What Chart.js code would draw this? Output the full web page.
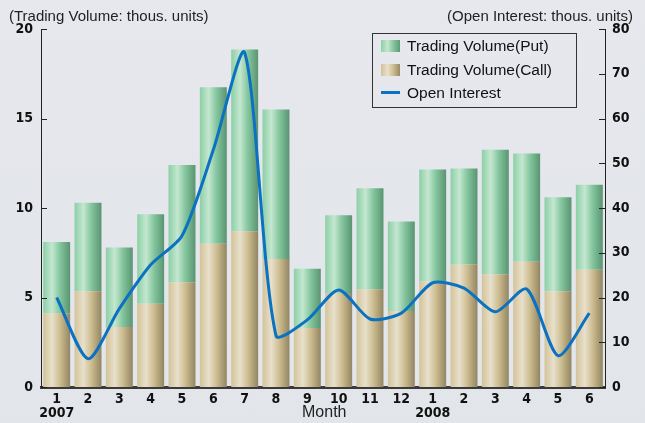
<!DOCTYPE html>
<html lang="en">
<head>
  <meta charset="UTF-8" />
  <title>Trading Volume and Open Interest</title>
  <script src="https://cdn.jsdelivr.net/npm/chart.js"></script>
  <style>
    body {
      margin: 0;
      background: #e4e7ec;
      font-family: "Liberation Sans", Arial, sans-serif;
    }
    #wrap {
      position: relative;
      width: 645px;
      height: 423px;
      background: linear-gradient(180deg, #e6e8ed 0%, #e2e5ea 100%);
    }
    canvas { position: absolute; left: 0; top: 0; }
    .unit {
      position: absolute;
      top: 7px;
      font-size: 15px;
      color: #222;
    }
    #month {
      position: absolute;
      left: 302px;
      top: 403px;
      font-size: 16px;
      color: #222;
    }
    #legend {
      position: absolute;
      left: 372px;
      top: 33px;
      width: 205px;
      height: 75px;
      border: 1px solid #333;
      box-sizing: border-box;
      padding: 0 0 0 8px;
      font-size: 15.5px;
      color: #111;
    }
    #legend div { height: 23.5px; line-height: 23.5px; }
    #legend span.sw {
      display: inline-block;
      width: 19px;
      height: 12px;
      vertical-align: -1px;
      margin-right: 7px;
    }
    #legend span.ln {
      display: inline-block;
      width: 19px;
      height: 3px;
      background: #0b72c1;
      vertical-align: 4px;
      margin-right: 7px;
    }
  </style>
</head>
<body>
  <div id="wrap">
    <canvas id="oiChart" width="645" height="423"></canvas>
    <div class="unit" style="left:9px">(Trading Volume: thous. units)</div>
    <div class="unit" style="right:12px">(Open Interest: thous. units)</div>
    <div id="month">Month</div>
    <div id="legend">
      <div><span class="sw" style="background:linear-gradient(90deg,#8ccfa6,#c4e7d0 35%,#84c69e 65%,#5e9a76)"></span>Trading Volume(Put)</div>
      <div><span class="sw" style="background:linear-gradient(90deg,#d3c398,#e8e0cc 35%,#cdbd90 65%,#978a66)"></span>Trading Volume(Call)</div>
      <div><span class="ln"></span>Open Interest</div>
    </div>
  </div>

  <script>
    const months = ["1", "2", "3", "4", "5", "6", "7", "8", "9", "10", "11", "12", "1", "2", "3", "4", "5", "6"];
    const years = ["2007", "", "", "", "", "", "", "", "", "", "", "", "2008", "", "", "", "", ""];
    const callVolume = [4.1, 5.35, 3.35, 4.65, 5.85, 8.0, 8.7, 7.15, 3.3, 5.25, 5.45, 4.25, 5.9, 6.85, 6.3, 7.0, 5.35, 6.55];
    const putVolume = [4.0, 4.95, 4.45, 5.0, 6.55, 8.75, 10.15, 8.35, 3.3, 4.35, 5.65, 5.0, 6.25, 5.35, 6.95, 6.05, 5.25, 4.75];
    const openInterest = [20.0, 6.3, 17.5, 27.3, 33.8, 53.0, 74.7, 11.5, 15.0, 21.7, 15.2, 16.5, 23.3, 22.1, 16.8, 21.9, 7.0, 16.5];

    const tickFont = { family: "'DejaVu Sans Condensed', sans-serif", size: 14, weight: "bold", lineHeight: 1.0 };

    // horizontal "cylinder" shading for each bar
    function barShade(stops) {
      return function (c) {
        const chart = c.chart;
        if (!chart.chartArea || c.dataIndex === undefined) return stops[0];
        const x = chart.scales.x.getPixelForValue(c.dataIndex);
        const half = chart.scales.x.width / months.length * 0.86 / 2;
        const g = chart.ctx.createLinearGradient(x - half, 0, x + half, 0);
        g.addColorStop(0, stops[0]);
        g.addColorStop(0.33, stops[1]);
        g.addColorStop(0.62, stops[2]);
        g.addColorStop(1, stops[3]);
        return g;
      };
    }

    const innerTicks = {
      id: "innerTicks",
      afterDraw(chart) {
        const ctx = chart.ctx;
        const yl = chart.scales.y, yr = chart.scales.y2;
        ctx.save();
        ctx.strokeStyle = "#222";
        ctx.lineWidth = 1;
        yl.ticks.forEach(t => {
          const p = Math.round(yl.getPixelForValue(t.value)) + 0.5;
          ctx.beginPath(); ctx.moveTo(yl.right, p); ctx.lineTo(yl.right + 6, p); ctx.stroke();
        });
        yr.ticks.forEach(t => {
          const p = Math.round(yr.getPixelForValue(t.value)) + 0.5;
          ctx.beginPath(); ctx.moveTo(yr.left - 6, p); ctx.lineTo(yr.left, p); ctx.stroke();
        });
        ctx.restore();
      }
    };

    new Chart(document.getElementById("oiChart"), {
      data: {
        labels: months.map((m, i) => [m, years[i]]),
        datasets: [
          {
            type: "line",
            label: "Open Interest",
            data: openInterest,
            yAxisID: "y2",
            borderColor: "#0b72c1",
            borderWidth: 3,
            pointRadius: 0,
            tension: 0.25,
            order: 0
          },
          {
            type: "bar",
            label: "Trading Volume(Call)",
            data: callVolume,
            yAxisID: "y",
            stack: "vol",
            backgroundColor: barShade(["#d3c398", "#e8e0cc", "#cdbd90", "#928562"]),
            barPercentage: 0.86,
            categoryPercentage: 1,
            order: 1
          },
          {
            type: "bar",
            label: "Trading Volume(Put)",
            data: putVolume,
            yAxisID: "y",
            stack: "vol",
            backgroundColor: barShade(["#8ccfa6", "#c4e7d0", "#84c69e", "#5a9472"]),
            barPercentage: 0.86,
            categoryPercentage: 1,
            order: 1
          }
        ]
      },
      options: {
        responsive: false,
        animation: false,
        layout: { padding: { top: 29, left: 0, right: 0, bottom: 0 } },
        plugins: {
          legend: { display: false },
          tooltip: { enabled: false }
        },
        scales: {
          x: {
            stacked: true,
            grid: { display: false, drawTicks: false },
            border: { display: true, color: "#3a3a3a", width: 3 },
            ticks: { color: "#111", font: tickFont, padding: 5, maxRotation: 0, autoSkip: false },
            afterFit: s => { s.height = 36; }
          },
          y: {
            stacked: true,
            position: "left",
            min: 0,
            max: 20,
            grid: { display: false, drawTicks: false },
            border: { display: true, color: "#222", width: 1 },
            ticks: { stepSize: 5, color: "#111", font: tickFont, padding: 8 },
            afterFit: s => { s.width = 41; }
          },
          y2: {
            position: "right",
            min: 0,
            max: 80,
            grid: { display: false, drawTicks: false },
            border: { display: true, color: "#222", width: 1 },
            ticks: { stepSize: 10, color: "#111", font: tickFont, padding: 7 },
            afterFit: s => { s.width = 40; }
          }
        }
      },
      plugins: [innerTicks]
    });
  </script>
</body>
</html>
